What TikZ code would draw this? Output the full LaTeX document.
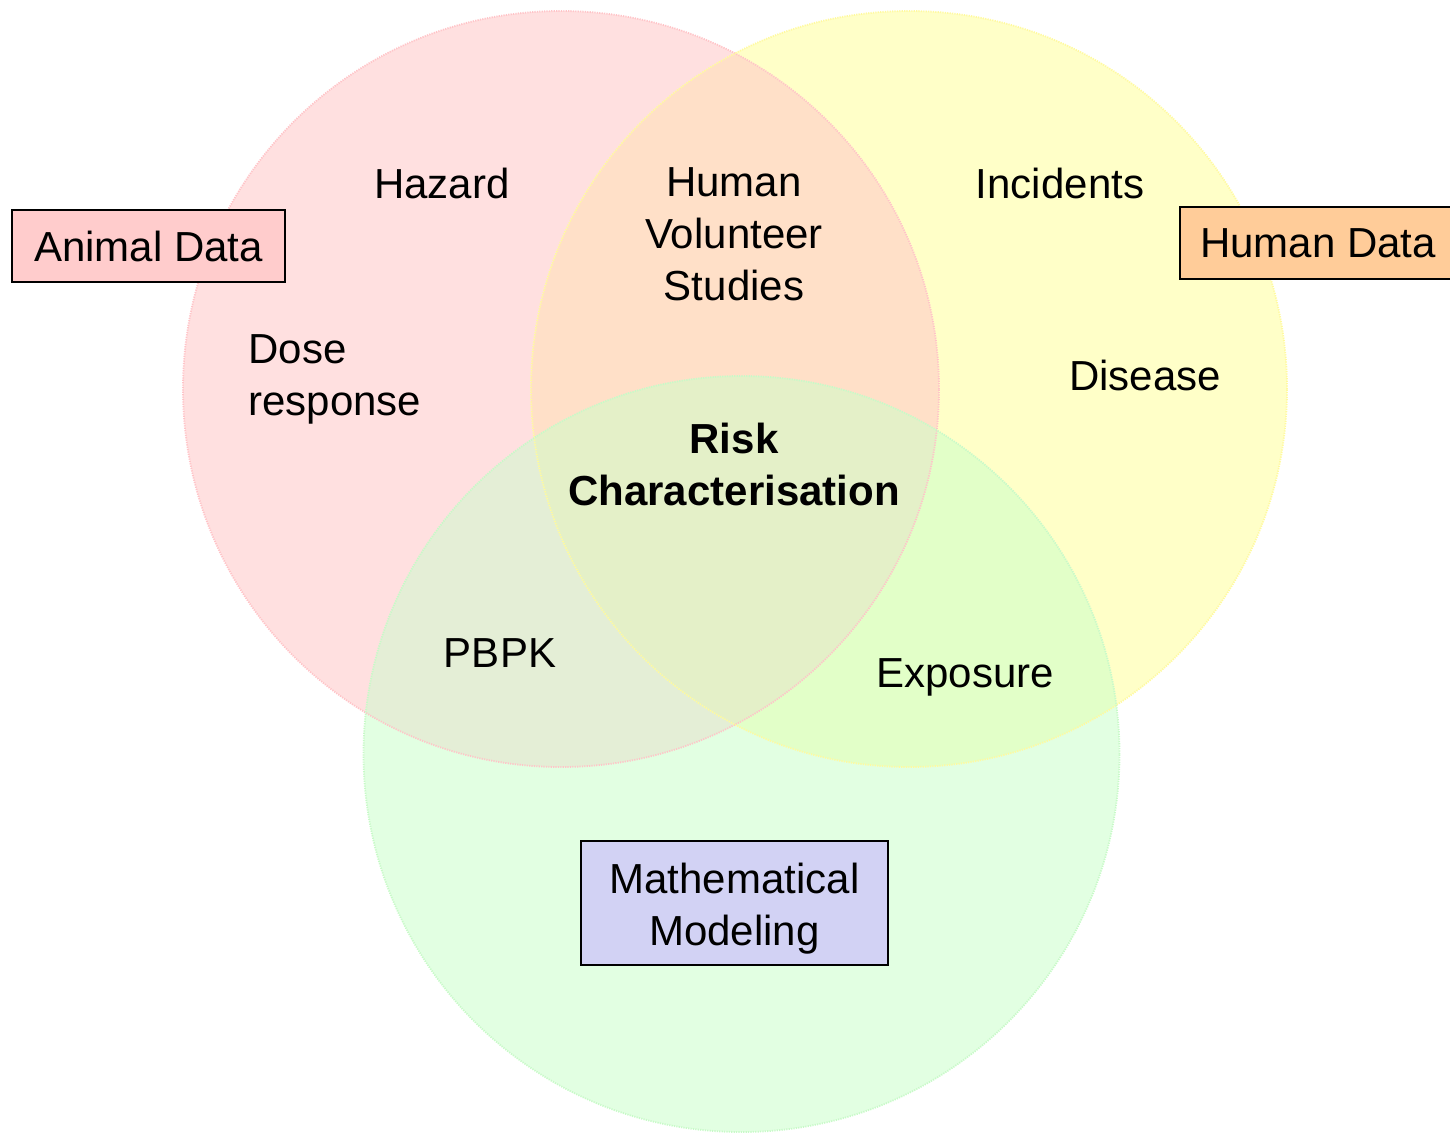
\documentclass[tikz,border=0pt]{standalone}
\usepackage{fontspec}
\setmainfont{Liberation Sans}
\definecolor{animalfill}{RGB}{255,224,224}
\definecolor{humanfill}{RGB}{255,255,200}
\definecolor{modelfill}{RGB}{226,255,226}
\definecolor{ahfill}{RGB}{255,224,200}
\definecolor{amfill}{RGB}{228,238,214}
\definecolor{hmfill}{RGB}{226,255,200}
\definecolor{centrefill}{RGB}{228,240,200}
\definecolor{animalline}{RGB}{255,196,200}
\definecolor{humanline}{RGB}{255,250,160}
\definecolor{modelline}{RGB}{200,250,200}
\definecolor{animalbox}{RGB}{255,204,204}
\definecolor{humanbox}{RGB}{255,204,153}
\definecolor{modelbox}{RGB}{210,210,244}
\begin{document}
\begin{tikzpicture}[x=0.5pt,y=-0.5pt,
  lbl/.style={font=\fontsize{21pt}{26pt}\selectfont, inner sep=0pt, align=center, anchor=base},
  boldlbl/.style={lbl, font=\fontsize{21pt}{26pt}\selectfont\bfseries},
  tagbox/.style={draw=black, line width=1pt, inner sep=0pt,
    font=\fontsize{21pt}{26pt}\selectfont, align=center},
  rim/.style={line width=0.9pt, dash pattern=on 0.6pt off 0.6pt}]
\useasboundingbox (0,0) rectangle (1450,1132);
\def\rad{189pt}
\coordinate (cA) at (561,389);
\coordinate (cH) at (909,389);
\coordinate (cM) at (741.5,754);

% the three sets
\fill[animalfill] (cA) circle[radius=\rad];
\fill[humanfill] (cH) circle[radius=\rad];
\fill[modelfill] (cM) circle[radius=\rad];

% pairwise overlaps
\begin{scope}
  \clip (cA) circle[radius=\rad];
  \fill[ahfill] (cH) circle[radius=\rad];
  \fill[amfill] (cM) circle[radius=\rad];
\end{scope}
\begin{scope}
  \clip (cH) circle[radius=\rad];
  \fill[hmfill] (cM) circle[radius=\rad];
  \clip (cA) circle[radius=\rad];
  \fill[centrefill] (cM) circle[radius=\rad];
\end{scope}

% rims
\draw[rim, animalline] (cA) circle[radius=\rad];
\draw[rim, humanline] (cH) circle[radius=\rad];
\draw[rim, modelline] (cM) circle[radius=\rad];

% labels inside the sets (base = baseline of the last line)
\node[lbl] (hazard) at (442,198) {Hazard};
\node[lbl] (volunteer) at (734,300) {Human\\Volunteer\\Studies};
\node[lbl] (incidents) at (1060,198) {Incidents};
\node[lbl, align=left, anchor=base west] (dose) at (248,415) {Dose\\response};
\node[lbl] (disease) at (1145,390) {Disease};
\node[boldlbl] (risk) at (734,505) {Risk\\Characterisation};
\node[lbl] (pbpk) at (500,667) {PBPK};
\node[lbl] (exposure) at (965,687) {Exposure};

% set titles
\node[tagbox, fill=animalbox, minimum width=136.5pt, minimum height=36pt] (animal) at (148.5,246) {Animal Data};
\node[tagbox, fill=humanbox, minimum width=138pt, minimum height=36pt] (human) at (1318,243) {Human Data};
\node[tagbox, fill=modelbox, minimum width=153.5pt, minimum height=62pt] (model) at (734.5,903) {\rule{0pt}{20.5pt}Mathematical\\Modeling};
\end{tikzpicture}
\end{document}
